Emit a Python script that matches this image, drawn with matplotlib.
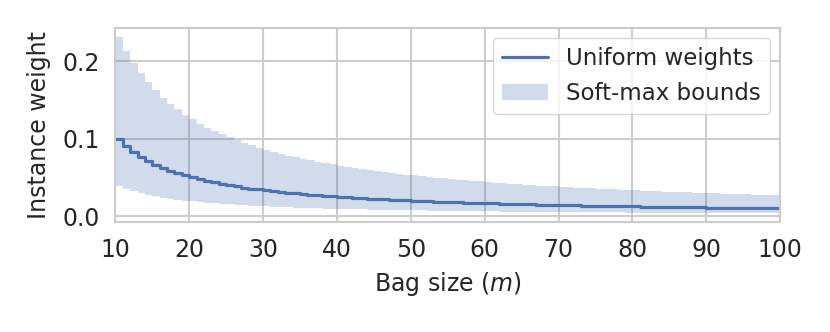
import numpy as np
import matplotlib
matplotlib.use('Agg')
import matplotlib.pyplot as plt
import seaborn as sns

sns.set_style('whitegrid')
plt.rcParams['font.family'] = ['DejaVu Sans']

# bag sizes m = 10 .. 100
bag_size = np.arange(10, 101)

uniform = [
    .1000, .0909, .0833, .0769, .0714, .0667, .0625, .0588, .0556, .0526,
    .0500, .0476, .0455, .0435, .0417, .0400, .0385, .0370, .0357, .0345,
    .0333, .0323, .0313, .0303, .0294, .0286, .0278, .0270, .0263, .0256,
    .0250, .0244, .0238, .0233, .0227, .0222, .0217, .0213, .0208, .0204,
    .0200, .0196, .0192, .0189, .0185, .0182, .0179, .0175, .0172, .0169,
    .0167, .0164, .0161, .0159, .0156, .0154, .0152, .0149, .0147, .0145,
    .0143, .0141, .0139, .0137, .0135, .0133, .0132, .0130, .0128, .0127,
    .0125, .0123, .0122, .0120, .0119, .0118, .0116, .0115, .0114, .0112,
    .0111, .0110, .0109, .0108, .0106, .0105, .0104, .0103, .0102, .0101,
    .0100]

upper = [
    .2320, .2137, .1982, .1847, .1729, .1626, .1534, .1452, .1379, .1312,
    .1252, .1197, .1146, .1100, .1057, .1017, .0981, .0947, .0915, .0885,
    .0857, .0831, .0806, .0783, .0761, .0740, .0721, .0702, .0684, .0668,
    .0652, .0636, .0622, .0608, .0595, .0582, .0570, .0558, .0547, .0536,
    .0526, .0516, .0506, .0497, .0488, .0479, .0471, .0463, .0455, .0448,
    .0440, .0433, .0427, .0420, .0414, .0407, .0401, .0396, .0390, .0384,
    .0379, .0374, .0369, .0364, .0359, .0354, .0350, .0345, .0341, .0337,
    .0333, .0329, .0325, .0321, .0317, .0314, .0310, .0306, .0303, .0300,
    .0296, .0293, .0290, .0287, .0284, .0281, .0278, .0275, .0273, .0270,
    .0267]

lower = [
    .0393, .0355, .0324, .0297, .0275, .0256, .0239, .0225, .0212, .0200,
    .0190, .0181, .0172, .0165, .0157, .0151, .0145, .0140, .0134, .0130,
    .0125, .0121, .0117, .0114, .0110, .0107, .0104, .0101, .0098, .0096,
    .0093, .0091, .0089, .0087, .0085, .0083, .0081, .0079, .0078, .0076,
    .0075, .0073, .0072, .0070, .0069, .0068, .0066, .0065, .0064, .0063,
    .0062, .0061, .0060, .0059, .0058, .0057, .0056, .0055, .0055, .0054,
    .0053, .0052, .0052, .0051, .0050, .0050, .0049, .0048, .0048, .0047,
    .0046, .0046, .0045, .0045, .0044, .0044, .0043, .0043, .0042, .0042,
    .0041, .0041, .0040, .0040, .0039, .0039, .0039, .0038, .0038, .0037,
    .0037]

blue = sns.color_palette('deep')[0]

fig = plt.figure(figsize=(8.3, 3.32), dpi=100)
ax = fig.add_axes([0.139, 0.331, 0.801, 0.585])

ax.fill_between(bag_size, lower, upper, step='post', color=blue, alpha=0.25,
                linewidth=0, label='Soft-max bounds')
ax.plot(bag_size, uniform, drawstyle='steps-post', color=blue, lw=2.3,
        label='Uniform weights')

ax.set_xlim(10, 100)
ax.set_xticks(range(10, 101, 10))
ax.set_yticks([0.0, 0.1, 0.2])
ax.tick_params(labelsize=17, pad=8)
ax.set_xlabel('Bag size ($m$)', fontsize=17, labelpad=6)
ax.set_ylabel('Instance weight', fontsize=17, labelpad=8)
for sp in ax.spines.values():
    sp.set_color('0.8')
    sp.set_linewidth(1.5)
ax.grid(color='0.8', lw=1.5)

handles, labels = ax.get_legend_handles_labels()
ax.legend(handles[::-1], labels[::-1], loc='upper right', fontsize=16.5,
          frameon=True, framealpha=0.8, edgecolor='0.8',
          borderaxespad=0.45)

fig.savefig('out.png', dpi=100)
